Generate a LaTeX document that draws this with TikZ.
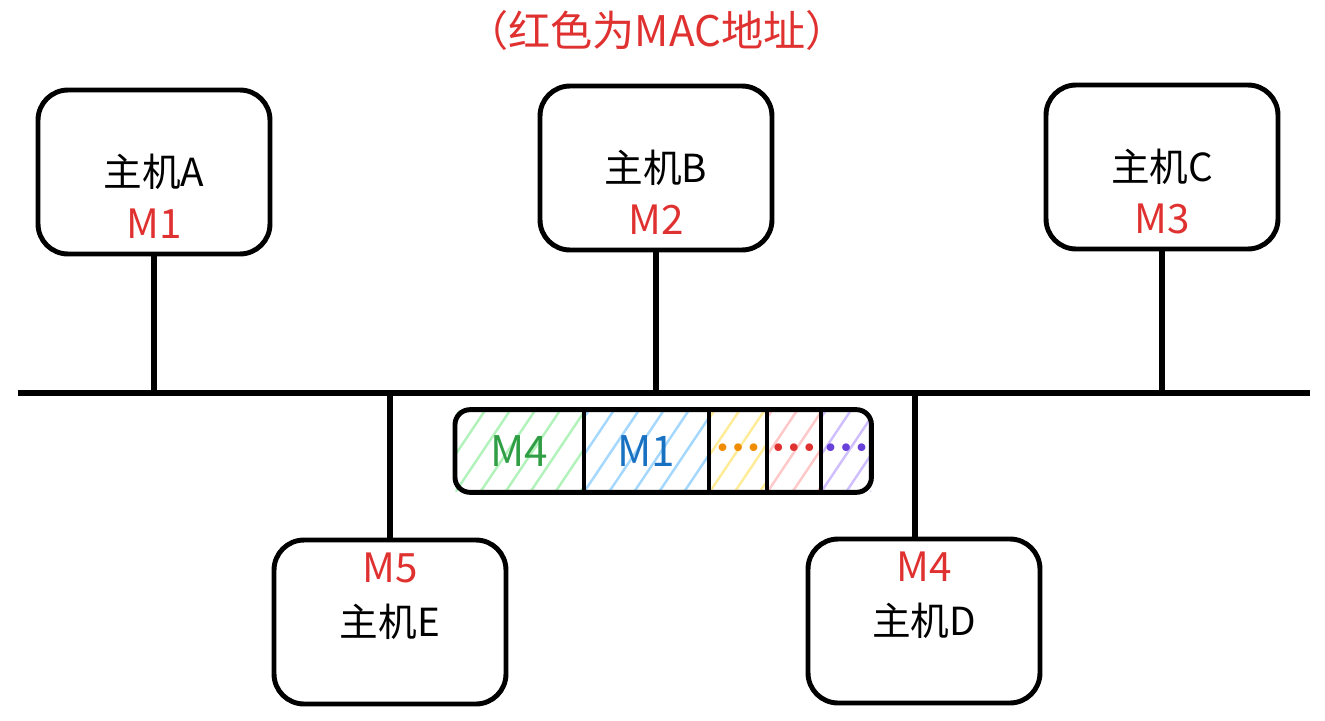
\documentclass[tikz,border=0pt]{standalone}
\usepackage{fontspec}
\setmainfont{Noto Sans CJK SC}
\newfontfamily\dotfont{DejaVu Sans}
\usepackage{tikz}
\usetikzlibrary{positioning,fit,calc}
\definecolor{myred}{RGB}{224,49,49}
\definecolor{mygreen}{RGB}{47,158,68}
\definecolor{mygreenl}{RGB}{178,242,187}
\definecolor{myblue}{RGB}{25,113,194}
\definecolor{mybluel}{RGB}{165,216,255}
\definecolor{myorange}{RGB}{240,140,0}
\definecolor{myorangel}{RGB}{255,236,153}
\definecolor{myredl}{RGB}{255,201,201}
\definecolor{myviolet}{RGB}{103,65,217}
\definecolor{myvioletl}{RGB}{208,191,255}
\tikzset{
    hatchcell/.style 2 args={
        minimum width=#1, minimum height=1.64cm, inner sep=0pt,
        path picture = {
            \foreach \k in {-4,...,8}
            \draw[#2, line width=1.4pt]
            ([xshift=\k*0.5cm]path picture bounding box.south west) --
            ++(1.1cm,1.64cm);
        }
    }
}

\begin{document}
\begin{tikzpicture}[
  x=0.02cm, y=-0.02cm,
  host/.style={
    draw,
    line width=2.8pt,
    rounded corners=0.6cm,
    minimum width=4.64cm,
    minimum height=3.28cm
    },
  wire/.style={line width=3.2pt},
  hostname/.style={font=\fontsize{22}{22}\selectfont},
  mac/.style={text=myred, font=\fontsize{23}{23}\selectfont},
  dots/.style={font=\dotfont\fontsize{15}{15}\selectfont}
  ]
\useasboundingbox (0,0) rectangle (1325,720);

\node[mac, font=\fontsize{24}{24}\selectfont] (title) at (657,30) {（红色为MAC地址）};

\foreach \h/\x/\y/\m in {A/154/172/M1, B/656/168/M2, C/1162/167/M3}{
  \node[host] (h\h) at (\x,\y) {};
  \node[hostname] (n\h) at (h\h) {主机\h};
  \node[mac] (m\h) at (\x,\y+52) {\m};
}
\foreach \h/\x/\y/\m in {E/390/622/M5, D/924/621/M4}{
  \node[host] (h\h) at (\x,\y) {};
  \node[hostname] (n\h) at (h\h) {主机\h};
  \node[mac] (m\h) at (\x,\y-54) {\m};
}

\coordinate (busL) at (18,393);
\coordinate (busR) at (1310,393);
\draw[wire] (busL) -- (busR);
\foreach \h in {A,B,C}
  \draw[wire] (h\h.south) -- (h\h.south |- busL);
\draw[wire] (hE.north) -- (hE.north |- busL);
\draw[wire] ([xshift=-0.18cm]hD.north) -- ([xshift=-0.18cm]hD.north |- busL);

\node[hatchcell={2.56cm}{mygreenl}, anchor=west] (c1) at (455,451)
  {\textcolor{mygreen}{\fontsize{24}{24}\selectfont M4}};
\node[hatchcell={2.5cm}{mybluel}, right=0pt of c1] (c2)
  {\textcolor{myblue}{\fontsize{24}{24}\selectfont M1}};
\node[hatchcell={1.14cm}{myorangel}, right=0pt of c2, dots] (c3)
  {\textcolor{myorange}{•••}};
\node[hatchcell={1.06cm}{myredl}, right=0pt of c3, dots] (c4)
  {\textcolor{myred}{•••}};
\node[hatchcell={1.0cm}{myvioletl}, right=0pt of c4, dots] (c5)
  {\textcolor{myviolet}{•••}};
\node[draw, line width=2.8pt, rounded corners=0.3cm, inner sep=0pt,
  fit=(c1)(c5)] (frame) {};
\foreach \c in {c1,c2,c3,c4}
  \draw[line width=2.4pt] (\c.north east) -- (\c.south east);

\end{tikzpicture}
\end{document}
